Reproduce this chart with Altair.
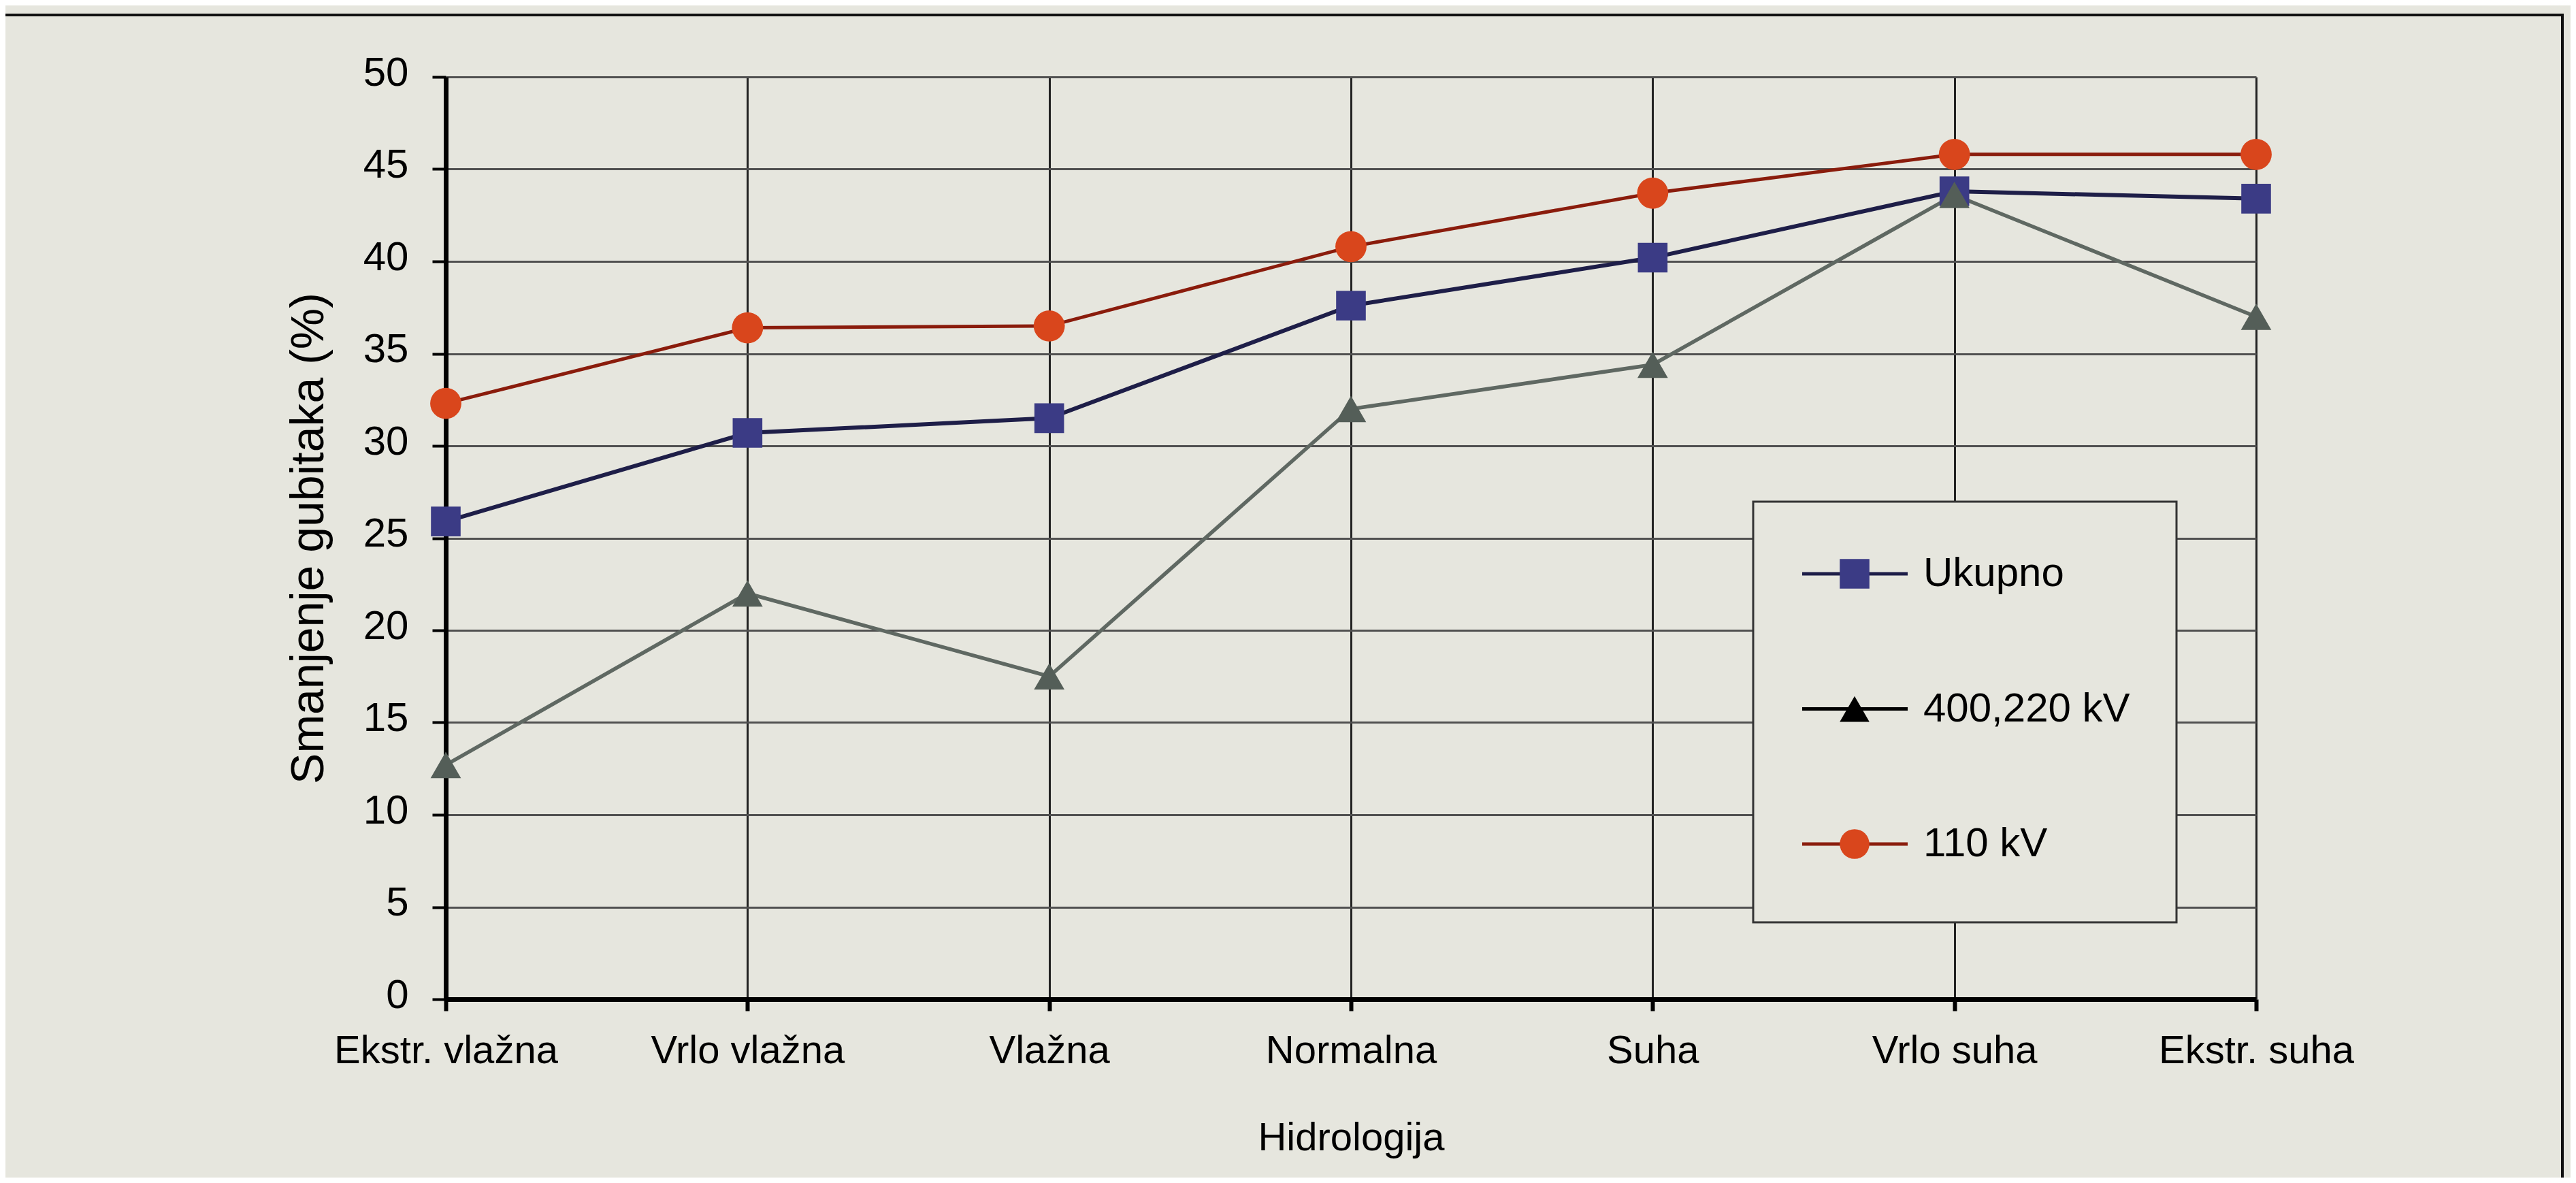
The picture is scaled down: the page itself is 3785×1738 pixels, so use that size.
import altair as alt
import pandas as pd

# ---- data ----
categories = ["Ekstr. vlažna", "Vrlo vlažna", "Vlažna", "Normalna", "Suha", "Vrlo suha", "Ekstr. suha"]
series_names = ["Ukupno", "400,220 kV", "110 kV"]
ukupno = [25.9, 30.7, 31.5, 37.6, 40.2, 43.8, 43.4]
kv400_220 = [12.7, 22.0, 17.5, 32.0, 34.4, 43.6, 37.0]
kv110 = [32.3, 36.4, 36.5, 40.8, 43.7, 45.8, 45.8]
y_ticks = list(range(0, 51, 5))

# ---- styles ----
BG = "#e6e6de"
LINE_COLORS = ["#1e1e48", "#5f6862", "#8a1c0c"]
MARKER_FILLS = ["#3b3b85", "#545e58", "#d9461c"]
MARKER_SHAPES = ["square", "triangle-up", "circle"]
MARKER_SIZES = [1900, 2100, 1750]
LINE_WIDTHS = [6, 5, 6]
LEGEND_LINE_COLORS = ["#1e1e48", "#000000", "#8a1c0c"]
LEGEND_FILLS = ["#3b3b85", "#000000", "#d9461c"]
FONT = "Liberation Sans"

rows = []
for name, vals in zip(series_names, [ukupno, kv400_220, kv110]):
    for c, v in zip(categories, vals):
        rows.append({"cat": c, "series": name, "value": v})
df = pd.DataFrame(rows)

legend_df = pd.DataFrame({
    "series": series_names,
    "lcol": LEGEND_LINE_COLORS,
    "lfill": LEGEND_FILLS,
    "lshape": MARKER_SHAPES,
})
one = pd.DataFrame({"k": [0]})

x_enc = alt.X(
    "cat:N", sort=categories,
    scale=alt.Scale(type="point", padding=0),
    axis=alt.Axis(
        title="Hidrologija", labelAngle=0, labelLimit=0, grid=True, gridColor="#222222", gridWidth=3,
        domainColor="black", domainWidth=7, tickColor="black", tickWidth=6, tickSize=17,
        labelFontSize=58, labelFont=FONT, labelColor="black", labelPadding=30,
        titleFontSize=58, titleFont=FONT, titleFontWeight="normal", titleColor="black",
        titlePadding=70,
    ),
)
y_enc = alt.Y(
    "value:Q",
    scale=alt.Scale(domain=[0, 50], nice=False, zero=True),
    axis=alt.Axis(
        values=y_ticks, title="Smanjenje gubitaka (%)", grid=True, gridColor="#505050", gridWidth=3,
        domainColor="black", domainWidth=7, tickColor="black", tickWidth=4, tickSize=20,
        labelFontSize=60, labelFont=FONT, labelColor="black", labelPadding=35, labelOffset=-6,
        titleFontSize=68, titleFont=FONT, titleFontWeight="normal", titleColor="black",
        titlePadding=45,
    ),
)

lines = alt.Chart(df).mark_line().encode(
    x=x_enc, y=y_enc,
    stroke=alt.Stroke("series:N", scale=alt.Scale(domain=series_names, range=LINE_COLORS), legend=None),
    strokeWidth=alt.StrokeWidth("series:N", scale=alt.Scale(domain=series_names, range=LINE_WIDTHS), legend=None),
    detail="series:N",
)
points = alt.Chart(df).mark_point(filled=True, opacity=1, strokeWidth=0).encode(
    x=x_enc, y=y_enc,
    fill=alt.Fill("series:N", scale=alt.Scale(domain=series_names, range=MARKER_FILLS), legend=None),
    shape=alt.Shape("series:N", scale=alt.Scale(domain=series_names, range=MARKER_SHAPES), legend=None),
    size=alt.Size("series:N", scale=alt.Scale(domain=series_names, range=MARKER_SIZES), legend=None),
)
main = alt.layer(lines, points)

# ---- legend (drawn as a box inside the plot) ----
ly = alt.Y("series:N", sort=series_names,
           scale=alt.Scale(type="point", domain=series_names, range=[730, 1127], padding=0),
           axis=None)
leg_box = alt.Chart(one).mark_rect(fill=BG, stroke="#333333", strokeWidth=3).encode(
    x=alt.value(1921), x2=alt.value(2543), y=alt.value(624), y2=alt.value(1242)
)
leg_rule = alt.Chart(legend_df).mark_rule(strokeWidth=5).encode(
    x=alt.value(1993), x2=alt.value(2148), y=ly,
    stroke=alt.Stroke("lcol:N", scale=None),
)
leg_pt = alt.Chart(legend_df).mark_point(filled=True, opacity=1, strokeWidth=0, size=1900).encode(
    x=alt.value(2070), y=ly,
    fill=alt.Fill("lfill:N", scale=None),
    shape=alt.Shape("lshape:N", scale=None),
)
leg_txt = alt.Chart(legend_df).mark_text(align="left", baseline="middle", fontSize=60, font=FONT, color="black").encode(
    x=alt.value(2171), y=ly, text="series:N"
)
legend = alt.layer(leg_box, leg_rule, leg_pt, leg_txt)

frame = alt.Chart(one).mark_rect(fillOpacity=0, stroke="#111111", strokeWidth=4).encode(
    x=alt.value(-652), x2=alt.value(3110), y=alt.value(-91), y2=alt.value(1620)
)

chart = alt.layer(frame, main, legend).resolve_scale(y="independent").properties(
    width=2660, height=1355,
    autosize=alt.AutoSizeParams(type="none"),
    padding={"left": 647, "top": 105, "right": 462, "bottom": 262},
    background=BG,
).configure_view(stroke=None, fill=BG)

chart.save("out.html", embed_options={"renderer": "svg", "actions": False})
